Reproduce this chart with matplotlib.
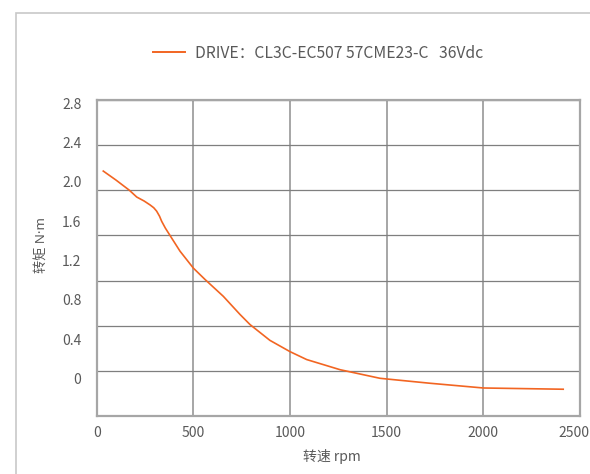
import matplotlib
matplotlib.use('Agg')
import matplotlib.pyplot as plt
import matplotlib.transforms as mtransforms
from matplotlib.patches import Rectangle

plt.rcParams['font.family'] = ['Noto Sans CJK SC', 'DejaVu Sans']

# 转速 (rpm) / 转矩 (N·m)
rpm = [34, 100, 169, 207, 245, 276, 295, 310, 325, 336, 355, 379, 431, 500,
       560, 655, 741, 793, 896, 1000, 1086, 1259, 1465, 1517, 1724, 2000, 2413]
torque = [2.17, 2.09, 2.00, 1.94, 1.905, 1.87, 1.845, 1.815, 1.77, 1.725,
          1.665, 1.60, 1.46, 1.31, 1.21, 1.06, 0.90, 0.81, 0.67, 0.57, 0.50,
          0.41, 0.334, 0.325, 0.29, 0.248, 0.237]

x_ticks = [0, 500, 1000, 1500, 2000, 2500]
y_ticks = [0, 0.4, 0.8, 1.2, 1.6, 2.0, 2.4, 2.8]
y_labels = ['0', '0.4', '0.8', '1.2', '1.6', '2.0', '2.4', '2.8']

legend_text = 'DRIVE：CL3C-EC507 57CME23-C   36Vdc'
line_color = '#f26522'
text_color = '#595959'

fig = plt.figure(figsize=(5.9, 4.74), dpi=100)

# cadre extérieur
fig.add_artist(Rectangle((16 / 590, -0.2), 1.2, 1.2 - 13 / 474,
                         transform=fig.transFigure, fill=False,
                         edgecolor='#c8c8c8', linewidth=1.2))

ax = fig.add_axes([0.1639, 0.1224, 0.8192, 0.6667])
ax.plot(rpm, torque, color=line_color, linewidth=1.2, label=legend_text)

ax.set_xlim(0, 2500)
ax.set_ylim(0, 2.8)
ax.set_xticks(x_ticks)
ax.set_yticks(y_ticks)
ax.set_yticklabels([])
ax.tick_params(axis='both', length=0)
ax.tick_params(axis='x', pad=7, labelsize=10, labelcolor=text_color)
ax.grid(axis='y', color='#7f7f7f', linewidth=0.9)
ax.grid(axis='x', color='#a6a6a6', linewidth=1.4)
for s in ax.spines.values():
    s.set_color('#a6a6a6')
    s.set_linewidth(1.6)

# dernier label légèrement décalé pour rester dans l'image
last = ax.get_xticklabels()[-1]
last.set_transform(last.get_transform() +
                   mtransforms.ScaledTranslation(-6 / 100, 0, fig.dpi_scale_trans))

ax.set_xlabel('转速 rpm', fontsize=10, color=text_color)
ax.xaxis.set_label_coords(0.487, -0.105)

# étiquettes de l'axe Y (décalées comme dans l'original)
ax2 = ax.twinx()
ax2.set_ylim(-0.379, 2.833)
ax2.set_yticks(y_ticks)
ax2.set_yticklabels(y_labels)
ax2.yaxis.tick_left()
ax2.tick_params(axis='y', length=0, pad=11, labelsize=10, labelcolor=text_color)
for s in ax2.spines.values():
    s.set_visible(False)
ax2.set_ylabel('转矩 N·m', fontsize=9.5, color=text_color,
               family=['Noto Sans', 'Noto Sans CJK SC'])
ax2.yaxis.set_label_position('left')
ax2.yaxis.set_label_coords(-0.099, 0.541)

leg = ax.legend(loc='center', bbox_to_anchor=(0.539, 0.888),
                bbox_transform=fig.transFigure, frameon=False,
                fontsize=11.3, handlelength=2.05, handletextpad=0.65,
                labelcolor=text_color)
leg.get_lines()[0].set_linewidth(1.4)

plt.savefig('out.png', dpi=100)
plt.close()
